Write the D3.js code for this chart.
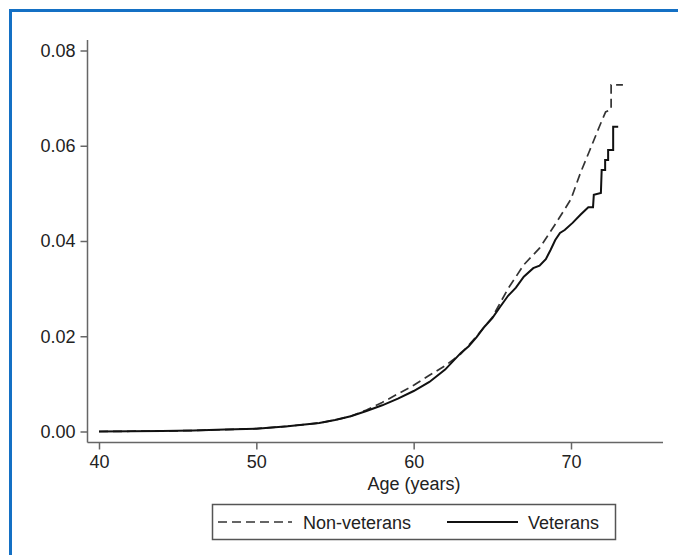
<!DOCTYPE html>
<html>
<head>
<meta charset="utf-8">
<script src="https://cdn.jsdelivr.net/npm/d3@7"></script>
<style>
  html, body { margin: 0; padding: 0; background: #fff; }
  svg { display: block; }
  text { font-family: "Liberation Sans", Arial, sans-serif; fill: #222; }
</style>
</head>
<body>
<svg id="chart" width="678" height="555"></svg>
<script>
// Cumulative incidence by age, non-veterans (dashed)
const nonVetAge  = [40, 42, 44, 46, 48, 50, 52, 54, 55, 56, 57, 58, 59, 60, 61, 62, 63, 64, 65, 66, 67, 68, 69, 70, 70.6, 71.2, 71.8, 72.2, 72.55, 72.55, 73.3];
const nonVetRisk = [0, 0.00005, 0.0001, 0.0002, 0.0004, 0.0006, 0.0011, 0.0018, 0.0024, 0.0032, 0.0045, 0.0061, 0.0079, 0.0097, 0.0118, 0.0138, 0.0163, 0.0200, 0.0240, 0.0300, 0.0350, 0.0385, 0.0435, 0.0488, 0.0543, 0.0591, 0.0640, 0.0671, 0.0676, 0.0728, 0.0728];

// Cumulative incidence by age, veterans (solid)
const vetAge  = [40, 42, 44, 46, 48, 50, 52, 54, 55, 56, 57, 58, 59, 60, 61, 62, 63, 63.5, 64, 64.5, 65, 65.5, 66, 66.5, 67, 67.6, 68, 68.4, 68.7, 69, 69.3, 69.6, 70.1, 70.6, 71.1, 71.4, 71.45, 71.9, 71.95, 72.17, 72.17, 72.36, 72.36, 72.68, 72.68, 73.0];
const vetRisk = [0, 0.00005, 0.0001, 0.0002, 0.0004, 0.0006, 0.0011, 0.0018, 0.0024, 0.0032, 0.0043, 0.0055, 0.0069, 0.0085, 0.0104, 0.0130, 0.0165, 0.0179, 0.0198, 0.0220, 0.0238, 0.0262, 0.0285, 0.0302, 0.0325, 0.0343, 0.0348, 0.0362, 0.0381, 0.0402, 0.0417, 0.0423, 0.0438, 0.0455, 0.0471, 0.0471, 0.0497, 0.0501, 0.0549, 0.0549, 0.0570, 0.0570, 0.0591, 0.0591, 0.0640, 0.0640];

const xTicks = [40, 50, 60, 70];
const yTicks = [0, 0.02, 0.04, 0.06, 0.08];
const seriesNames = ["Non-veterans", "Veterans"];
const xTitle = "Age (years)";

const svg = d3.select("#chart");

// Frame along the top and left edges
svg.append("path")
  .attr("d", "M10.5,555 L10.5,10.5 L678,10.5")
  .attr("fill", "none")
  .attr("stroke", "#1470c4")
  .attr("stroke-width", 3);

const x = d3.scaleLinear().domain([40, 70]).range([99, 571]);
const y = d3.scaleLinear().domain([0, 0.08]).range([431.5, 50.5]);

const axisColor = "#666";
const xAxisY = 442.5;
const yAxisX = 87.5;

// Axis lines
svg.append("line")
  .attr("x1", yAxisX).attr("x2", 663)
  .attr("y1", xAxisY).attr("y2", xAxisY)
  .attr("stroke", axisColor).attr("stroke-width", 1.5);
svg.append("line")
  .attr("x1", yAxisX).attr("x2", yAxisX)
  .attr("y1", 40).attr("y2", xAxisY)
  .attr("stroke", axisColor).attr("stroke-width", 1.5);

// X axis ticks and labels
const gx = svg.append("g")
  .attr("transform", `translate(0,${xAxisY})`)
  .call(d3.axisBottom(x).tickValues(xTicks).tickFormat(d3.format("d")).tickSize(7).tickSizeOuter(0).tickPadding(6));
gx.select(".domain").remove();
gx.selectAll(".tick line").attr("stroke", axisColor).attr("stroke-width", 1.5);
gx.selectAll(".tick text").attr("font-size", 18).attr("fill", "#222")
  .attr("font-family", "Liberation Sans, Arial, sans-serif");

// Y axis ticks and labels
const gy = svg.append("g")
  .attr("transform", `translate(${yAxisX},0)`)
  .call(d3.axisLeft(y).tickValues(yTicks).tickFormat(d3.format(".2f")).tickSize(7).tickSizeOuter(0).tickPadding(5));
gy.select(".domain").remove();
gy.selectAll(".tick line").attr("stroke", axisColor).attr("stroke-width", 1.5);
gy.selectAll(".tick text").attr("font-size", 18).attr("fill", "#222")
  .attr("font-family", "Liberation Sans, Arial, sans-serif");

// Axis title
svg.append("text")
  .attr("x", 414).attr("y", 490)
  .attr("text-anchor", "middle")
  .attr("font-size", 18)
  .text(xTitle);

// Curves
const line = d3.line()
  .x(d => x(d[0]))
  .y(d => y(d[1]))
  .curve(d3.curveLinear);

const nonVet = nonVetAge.map((a, i) => [a, nonVetRisk[i]]);
const vet = vetAge.map((a, i) => [a, vetRisk[i]]);

svg.append("path")
  .datum(nonVet)
  .attr("d", line)
  .attr("fill", "none")
  .attr("stroke", "#333")
  .attr("stroke-width", 1.7)
  .attr("stroke-dasharray", "9,5");

svg.append("path")
  .datum(vet)
  .attr("d", line)
  .attr("fill", "none")
  .attr("stroke", "#111")
  .attr("stroke-width", 2)
  .attr("stroke-linejoin", "miter");

// Legend
const legend = svg.append("g");
legend.append("rect")
  .attr("x", 212.5).attr("y", 504.5)
  .attr("width", 403).attr("height", 35)
  .attr("fill", "#fff")
  .attr("stroke", "#555").attr("stroke-width", 1.5);

legend.append("line")
  .attr("x1", 218).attr("x2", 292).attr("y1", 522).attr("y2", 522)
  .attr("stroke", "#333").attr("stroke-width", 1.7).attr("stroke-dasharray", "9,5");
legend.append("text")
  .attr("x", 303).attr("y", 528.5)
  .attr("font-size", 18)
  .text(seriesNames[0]);

legend.append("line")
  .attr("x1", 447).attr("x2", 518).attr("y1", 522).attr("y2", 522)
  .attr("stroke", "#111").attr("stroke-width", 2);
legend.append("text")
  .attr("x", 528).attr("y", 528.5)
  .attr("font-size", 18)
  .text(seriesNames[1]);
</script>
</body>
</html>
